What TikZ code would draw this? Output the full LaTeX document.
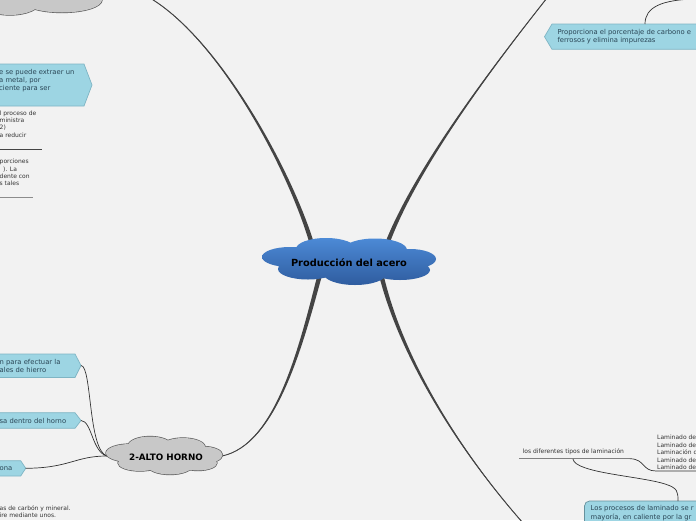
\documentclass[tikz,border=0pt]{standalone}
\usepackage{fontspec}
\setmainfont{DejaVu Sans}
\usetikzlibrary{calc, positioning}

\definecolor{fondo}{HTML}{F2F2F2}
\definecolor{enlace}{HTML}{444444}
\definecolor{celeste}{HTML}{9DD5E3}
\definecolor{celesteborde}{HTML}{7FB5C4}
\definecolor{textoazul}{HTML}{2A4656}
\definecolor{nubegris}{HTML}{C8C8C8}
\definecolor{azularriba}{HTML}{4C8AD6}
\definecolor{azulabajo}{HTML}{2F5C9F}

\tikzset{
  globo/.style={fill=celeste, draw=celesteborde, line width=0.7},
  texto/.style={anchor=west, inner sep=0pt, align=left, text=textoazul, font=\fontsize{6.8}{8.3}\selectfont},
  nota/.style={anchor=west, inner sep=0pt, align=left, text=black!80, font=\fontsize{6}{7.4}\selectfont},
  rama/.style={draw=black!80, line width=0.7},
  borde/.style={draw=black!65, line width=1.3},
}

% rama gruesa que se afina hacia su extremo
\newcommand{\ramal}[5]{%
  \fill[enlace] ($#1+(-#5,0)$) .. controls ($#2+(-#5*0.7,0)$) and ($#3+(-0.6,0)$) .. ($#4+(-0.3,0)$)
    -- ($#4+(0.3,0)$) .. controls ($#3+(0.6,0)$) and ($#2+(#5*0.7,0)$) .. ($#1+(#5,0)$) -- cycle;
  \draw[enlace, line width=0.9] #1 .. controls #2 and #3 .. #4;}

% contornos de las nubes
\newcommand{\nubeprod}{(290,257) ellipse [x radius=28, y radius=10]
  (326,249) ellipse [x radius=30, y radius=11] (375,250) ellipse [x radius=32, y radius=11.5]
  (410,259) ellipse [x radius=26, y radius=10] (308,269) ellipse [x radius=30, y radius=10.5]
  (355,273) ellipse [x radius=32, y radius=12] (400,270) ellipse [x radius=30, y radius=10]
  (349,262) ellipse [x radius=55, y radius=13]}
\newcommand{\nubealto}{(130,453) ellipse [x radius=24, y radius=9]
  (150,446) ellipse [x radius=22, y radius=9.5] (183,447) ellipse [x radius=22, y radius=9]
  (203,455) ellipse [x radius=19.5, y radius=8.5] (140,463) ellipse [x radius=22, y radius=8]
  (170,466) ellipse [x radius=22, y radius=8.5] (198,463) ellipse [x radius=19, y radius=7.5]
  (166,456) ellipse [x radius=42, y radius=11]}
\newcommand{\nubemineral}{(10,2) ellipse [x radius=30, y radius=13]
  (62,0) ellipse [x radius=40, y radius=12.5] (30,-8) ellipse [x radius=40, y radius=12]}

\begin{document}
\begin{tikzpicture}[x=1pt, y=-1pt]
    \fill[fondo] (0,0) rectangle (696,520);
    \useasboundingbox (0,0) rectangle (696,520);
    \clip (0,0) rectangle (696,520);

    % puntos de las ramas
    \coordinate (prod) at (349,263);
    \coordinate (alto) at (166,457);
    \coordinate (alto-e) at (222,456);
    \coordinate (hierro) at (150,-2);
    \coordinate (carbono) at (547,-2);
    \coordinate (laminado) at (523,523);

    \ramal{(312,244)}{(290,170)}{(220,40)}{(hierro)}{2.3}
    \ramal{(387,244)}{(415,170)}{(490,70)}{(carbono)}{2.3}
    \ramal{(319,278)}{(300,350)}{(275,445)}{(alto-e)}{2.3}
    \ramal{(382,278)}{(400,350)}{(450,440)}{(laminado)}{2.3}

    % nube superior izquierda
    \path[borde] \nubemineral;
    \fill[nubegris] \nubemineral;

    % globo del mineral
    \draw[globo] (-5,64) -- (84,64) -- (92,85) -- (84,106) -- (-5,106) -- cycle;
    \node[texto] (tmineral) at (-1,80.5) {e se puede extraer un\\a metal, por\\ciente para ser};

    \node[nota] (nota1) at (-0.5,124) {l proceso de\\ministra\\2)\\a reducir};
    \draw[enlace, line width=0.8] (-1,149.5) -- (42,149.5);
    \node[nota] (nota2) at (-0.5,172.5) {porciones\\\hspace*{3.5pt}). La\\dente con\\s tales};
    \draw[black!45, line width=1.3] (-1,197.7) -- (33,197.7);

    % globo del carbono
    \draw[globo] (710,24) -- (552,24) -- (544.5,36.7) -- (552,49.3) -- (710,49.3) -- cycle;
    \node[texto] (tcarbono) at (557.3,36.7) {Proporciona el porcentaje de carbono e\\ferrosos y elimina impurezas};
    \coordinate (carbono-n) at (645,24);
    \draw[rama] (carbono-n) .. controls (645,8) and (660,-1) .. (700,-1);

    % alto horno
    \coordinate (pA) at (81,365.5);
    \coordinate (pB) at (81,420.5);
    \coordinate (pC) at (25.7,468.3);
    \coordinate (alto-w) at (107,456);
    \draw[globo] (-5,354) -- (75,354) -- (pA) -- (75,377.5) -- (-5,377.5) -- cycle;
    \node[texto] (tA) at (-0.5,366) {n para efectuar la\\ales de hierro};
    \draw[globo] (-5,412.7) -- (75,412.7) -- (pB) -- (75,428.3) -- (-5,428.3) -- cycle;
    \node[texto] (tB) at (-0.5,420.5) {sa dentro del horno};
    \draw[globo] (-5,460.7) -- (20.7,460.7) -- (pC) -- (20.7,476) -- (-5,476) -- cycle;
    \node[texto] (tC) at (-0.5,468.3) {ona};

    \draw[rama] (pA) .. controls (92,366) and (88,450) .. (alto-w);
    \draw[rama] (pB) .. controls (92,421) and (92,452) .. (alto-w);
    \draw[rama] (pC) .. controls (70,468) and (75,456) .. (alto-w);

    \node[nota] (nota3) at (-0.5,511.5) {as de carbón y mineral.\\ire mediante unos.};

    % laminacion
    \node[nota] (tipos) at (522.5,452) {los diferentes tipos de laminación};
    \draw[black!50, line width=1.4] (519,458.7) -- (630,458.7);
    \draw[rama] (630,458.7) .. controls (645,459) and (642,471) .. (656,471) -- (700,471);
    \node[nota, font=\fontsize{6}{7.6}\selectfont] (lista) at (657,452.5)
        {Laminado de\\Laminado de\\Laminación d\\Laminado de\\Laminado de};
    \draw[globo, draw=celesteborde!80!black, rounded corners=5] (710,501) -- (584.5,501) -- (584.5,530) -- (710,530);
    \node[texto, anchor=north west] (tprocesos) at (590.5,505.5) {Los procesos de laminado se r\\mayoría, en caliente por la gr};
    \coordinate (procesos-n) at (678,501);
    \draw[rama] (573,459) .. controls (575,473) and (640,476) .. (665,484)
        .. controls (678,488) and (678,492) .. (procesos-n);

    % nubes
    \path[borde] \nubealto;
    \fill[nubegris] \nubealto;
    \node[font=\fontsize{8.8}{10}\selectfont\bfseries] (nalto) at (alto) {2-ALTO HORNO};
    \shade[top color=azularriba, bottom color=azulabajo] \nubeprod;
    \node[font=\fontsize{9.8}{11}\selectfont\bfseries] (nprod) at (prod) {Producción del acero};
\end{tikzpicture}
\end{document}
